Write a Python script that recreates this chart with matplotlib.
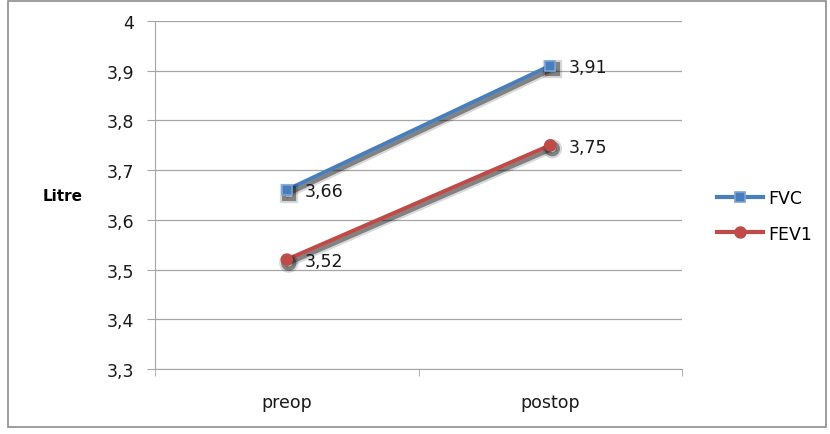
import matplotlib
matplotlib.use("Agg")
import matplotlib.pyplot as plt
import matplotlib.patheffects as pe
from matplotlib.patches import Rectangle
from matplotlib.lines import Line2D

categories = ["preop", "postop"]
fvc = [3.66, 3.91]
fev1 = [3.52, 3.75]
yticks = [3.3, 3.4, 3.5, 3.6, 3.7, 3.8, 3.9, 4.0]
ytick_labels = ["3,3", "3,4", "3,5", "3,6", "3,7", "3,8", "3,9", "4"]

blue = "#4A7EBB"
red = "#BE4B48"
gridc = "#A6A6A6"
fs = 12.5

fig = plt.figure(figsize=(8.3, 4.35), dpi=100)
fig.patches.append(Rectangle((8/830, 7/435), 818/830, 426/435, transform=fig.transFigure,
                             fill=False, edgecolor="#8c8c8c", linewidth=1.2))
ax = fig.add_axes([155/830, 65/435, 527/830, 348/435])

x = list(range(len(categories)))
shadow = [pe.SimpleLineShadow(offset=(1.5, -2.5), shadow_color="black", alpha=0.15, linewidth=6),
          pe.SimpleLineShadow(offset=(1.5, -2.5), shadow_color="black", alpha=0.4, linewidth=3),
          pe.Normal()]
ax.plot(x, fvc, color=blue, linewidth=3, marker="s", markersize=7.5, markerfacecolor=blue,
        markeredgecolor="#7AA3DA", markeredgewidth=1.2, path_effects=shadow, zorder=3)
ax.plot(x, fev1, color=red, linewidth=3, marker="o", markersize=8, markerfacecolor=red,
        markeredgecolor=red, path_effects=shadow, zorder=3)

for xi, v in zip(x, fvc):
    ax.annotate(f"{v:.2f}".replace(".", ","), (xi, v), xytext=(13, -1), textcoords="offset points",
                ha="left", va="center", fontsize=fs, color="#1a1a1a")
for xi, v in zip(x, fev1):
    ax.annotate(f"{v:.2f}".replace(".", ","), (xi, v), xytext=(13, -1), textcoords="offset points",
                ha="left", va="center", fontsize=fs, color="#1a1a1a")

ax.set_xlim(-0.5, 1.5)
ax.set_ylim(3.3, 4.0)
ax.set_yticks(yticks)
ax.set_yticklabels(ytick_labels, fontsize=fs, color="#1a1a1a")
ax.set_xticks(x)
ax.set_xticklabels(categories, fontsize=fs, color="#1a1a1a")
ax.tick_params(axis="x", length=0, pad=17)
ax.set_xticks([-0.5, 0.5, 1.5], minor=True)
ax.tick_params(axis="x", which="minor", length=5, color=gridc, direction="out")
ax.tick_params(axis="y", length=6, color=gridc, direction="out", pad=9)
ax.grid(axis="y", color=gridc, linewidth=0.9)
ax.set_axisbelow(True)
for s in ["top", "right"]:
    ax.spines[s].set_visible(False)
ax.spines["left"].set_color(gridc)
ax.spines["bottom"].set_color(gridc)

fig.text(63/830, 1 - 197/435, "Litre", fontsize=11, fontweight="bold", ha="center", va="center")

handles = [Line2D([], [], color=blue, linewidth=3, marker="s", markersize=7.5, markerfacecolor=blue,
                  markeredgecolor="#7AA3DA", markeredgewidth=1.2),
           Line2D([], [], color=red, linewidth=3, marker="o", markersize=8, markerfacecolor=red,
                  markeredgecolor=red)]
leg = ax.legend(handles, ["FVC", "FEV1"], loc="center left", bbox_to_anchor=(1.036, 0.44),
                frameon=False, fontsize=fs, handlelength=2.7, labelspacing=1.0, handletextpad=0.3)

fig.savefig("out.png", dpi=100)
